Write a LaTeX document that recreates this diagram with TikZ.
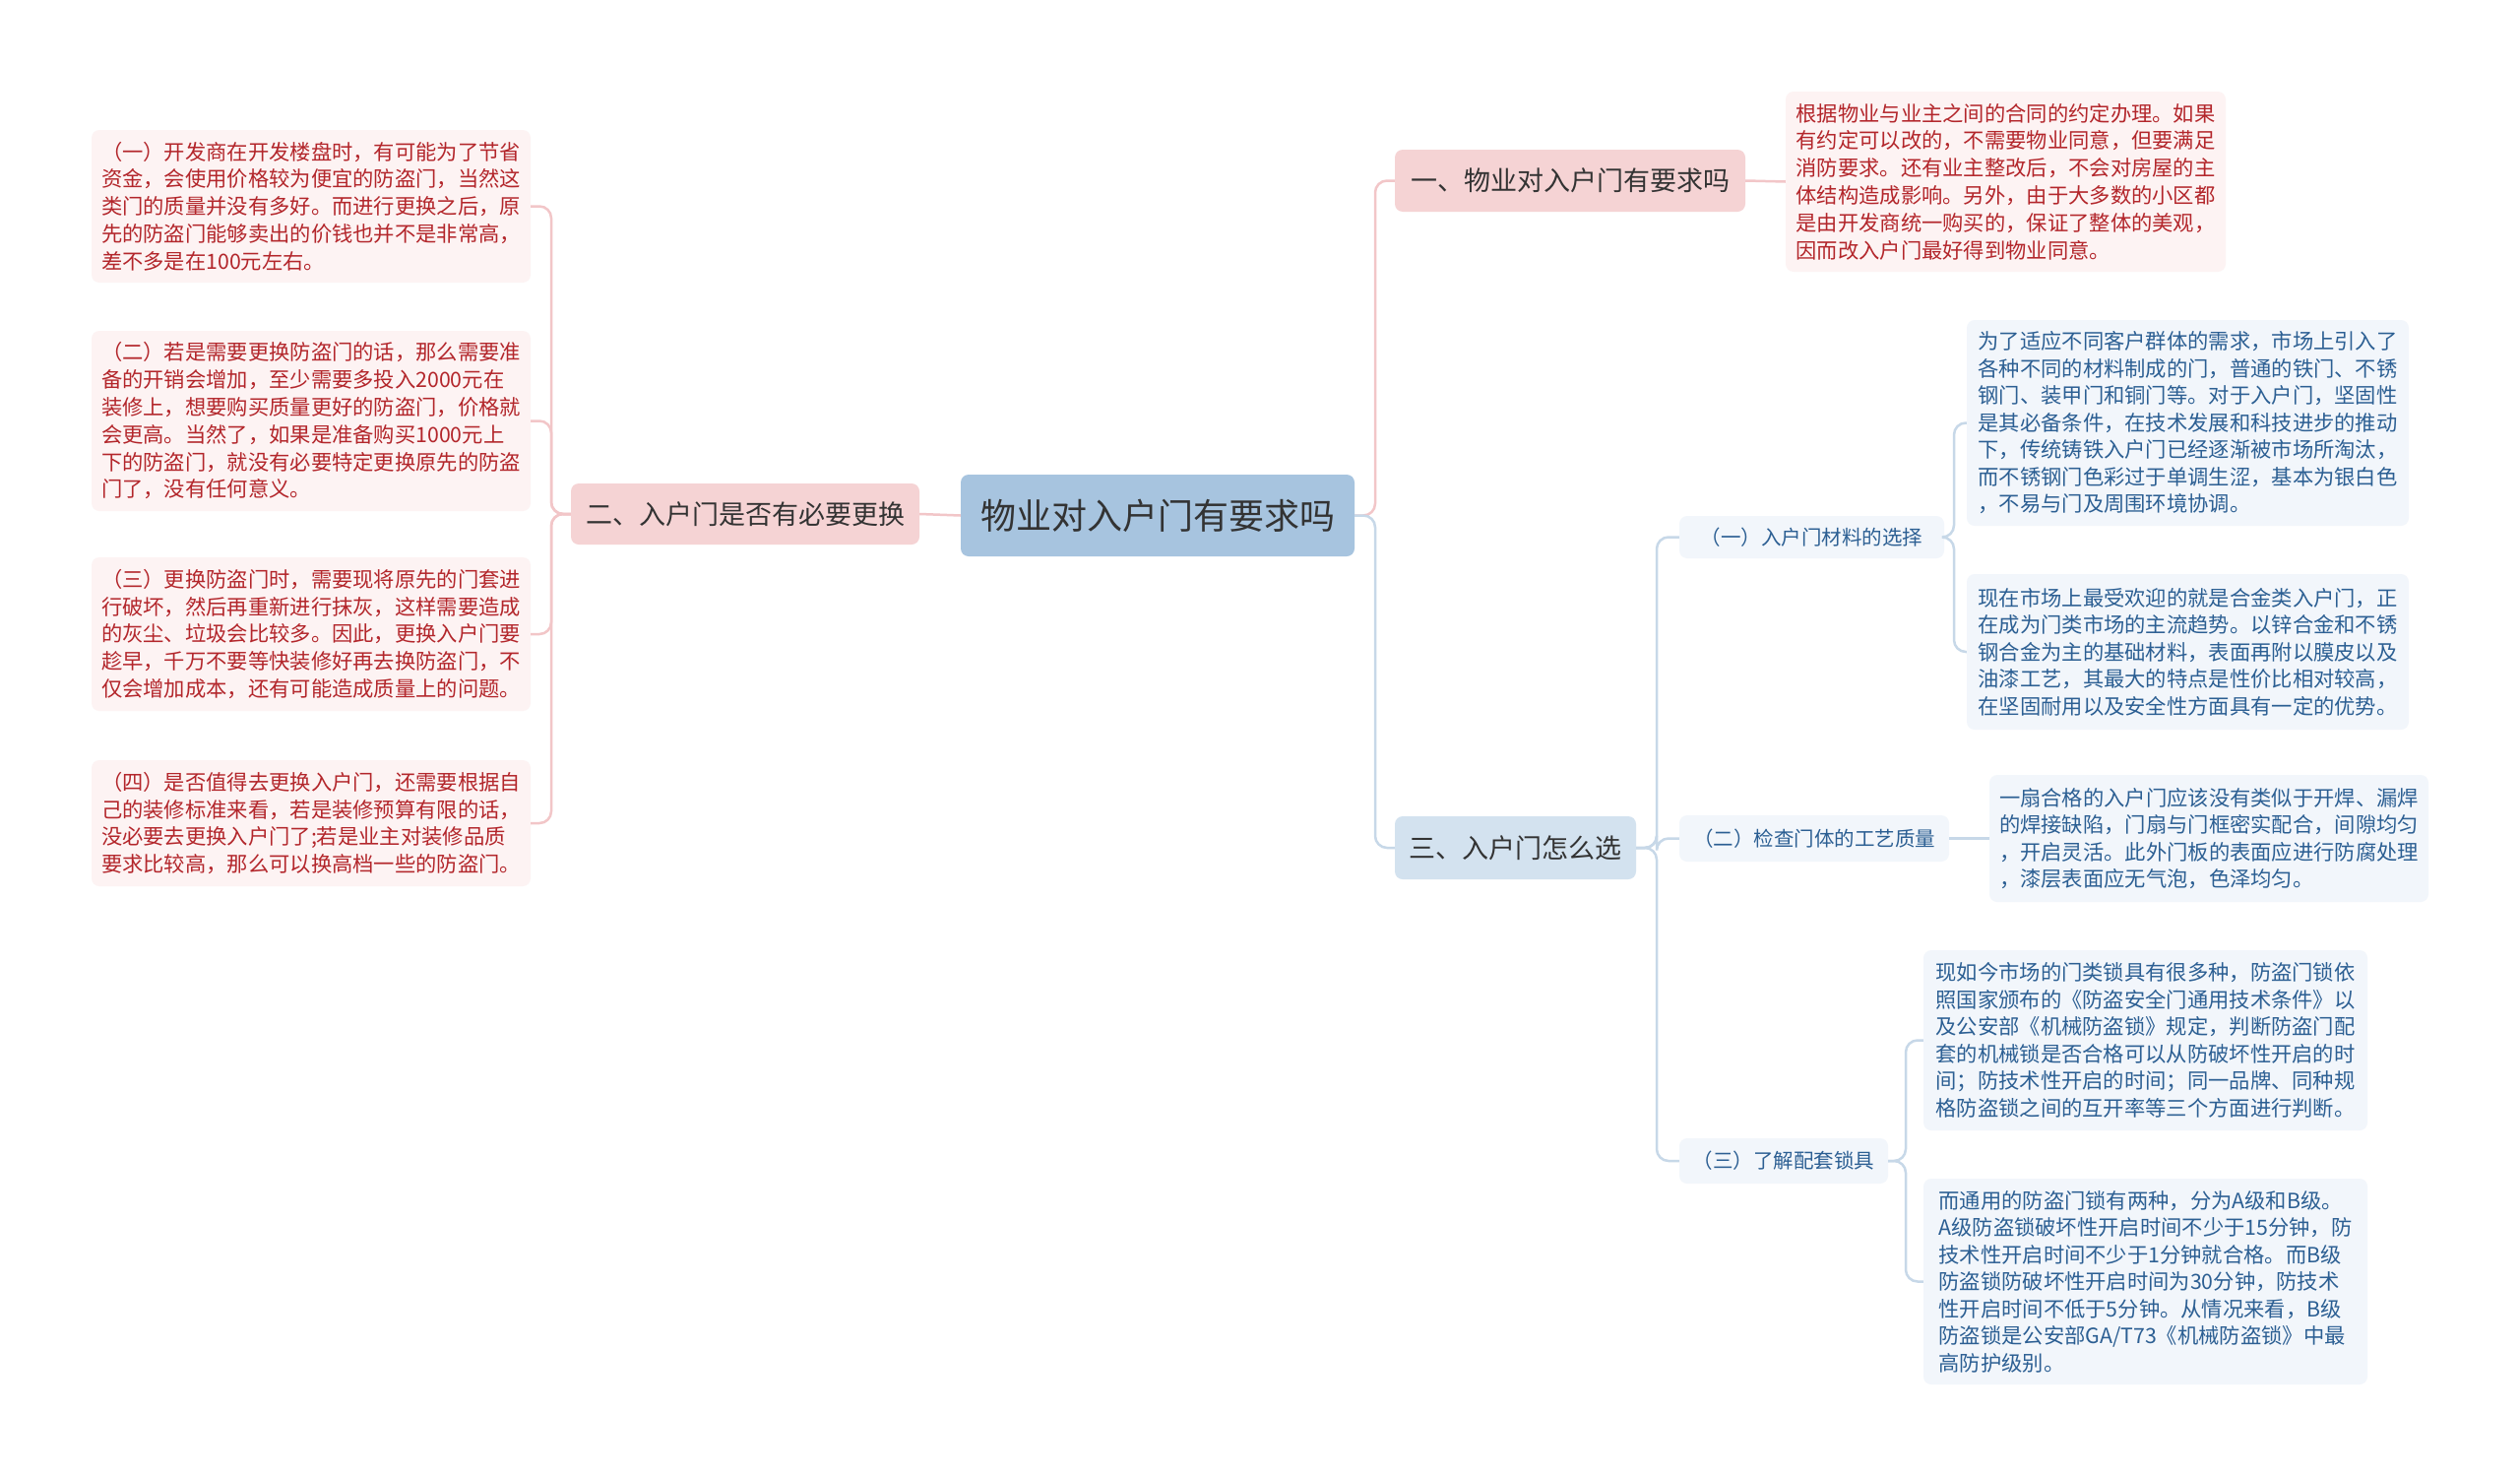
\documentclass[tikz,border=0pt]{standalone}
\usepackage{fontspec}
\setmainfont{Noto Sans CJK SC}
\definecolor{rootfill}{HTML}{A7C4DF}
\definecolor{pinkfill}{HTML}{F5D3D4}
\definecolor{pinkleaf}{HTML}{FDF3F3}
\definecolor{redtext}{HTML}{B3262B}
\definecolor{bluefill}{HTML}{D3E2EF}
\definecolor{blueleaf}{HTML}{F2F6FB}
\definecolor{bluetext}{HTML}{2C5F93}
\definecolor{pinkline}{HTML}{F2C6C8}
\definecolor{blueline}{HTML}{C7D8E8}
\definecolor{darktext}{HTML}{333333}
\tikzset{
  box/.style={rounded corners=8pt, inner sep=0pt, align=left},
  bx/.style 2 args={minimum width=#1pt, minimum height=#2pt},
  rootbox/.style={box, fill=rootfill, text=darktext, font=\fontsize{36}{42}\selectfont},
  pinkbranch/.style={box, fill=pinkfill, text=darktext, font=\fontsize{27}{32}\selectfont},
  bluebranch/.style={box, fill=bluefill, text=darktext, font=\fontsize{27}{32}\selectfont},
  subbox/.style={box, fill=blueleaf, text=bluetext, font=\fontsize{20.5}{25}\selectfont},
  redleaf/.style={box, fill=pinkleaf, text=redtext, font=\fontsize{21.3}{27.8}\selectfont},
  blueleafbox/.style={box, fill=blueleaf, text=bluetext, font=\fontsize{21.3}{27.5}\selectfont},
  pinkconn/.style={draw=pinkline, line width=2.5pt, rounded corners=12pt},
  blueconn/.style={draw=blueline, line width=2.5pt, rounded corners=12pt},
}
\begin{document}
\begin{tikzpicture}[x=1pt,y=-1pt]
\useasboundingbox[fill=white] (0,0) rectangle (2560,1499);

% root and branches
\node[rootbox, bx={400}{83}] (root) at (1176,523.5) {物业对入户门有要求吗};
\node[pinkbranch, bx={354}{62}] (bl) at (757,522) {二、入户门是否有必要更换};
\node[pinkbranch, bx={356}{63}] (b1) at (1595,183.5) {一、物业对入户门有要求吗};
\node[bluebranch, bx={245}{64}] (b3) at (1539.5,861) {三、入户门怎么选};

% left leaves
\node[redleaf, bx={446}{155}] (l1) at (316,209.5) {（一）开发商在开发楼盘时，有可能为了节省\\资金，会使用价格较为便宜的防盗门，当然这\\类门的质量并没有多好。而进行更换之后，原\\先的防盗门能够卖出的价钱也并不是非常高，\\差不多是在100元左右。};
\node[redleaf, bx={446}{183}] (l2) at (316,427.5) {（二）若是需要更换防盗门的话，那么需要准\\备的开销会增加，至少需要多投入2000元在\\装修上，想要购买质量更好的防盗门，价格就\\会更高。当然了，如果是准备购买1000元上\\下的防盗门，就没有必要特定更换原先的防盗\\门了，没有任何意义。};
\node[redleaf, bx={446}{156}] (l3) at (316,644) {（三）更换防盗门时，需要现将原先的门套进\\行破坏，然后再重新进行抹灰，这样需要造成\\的灰尘、垃圾会比较多。因此，更换入户门要\\趁早，千万不要等快装修好再去换防盗门，不\\仅会增加成本，还有可能造成质量上的问题。};
\node[redleaf, bx={446}{128}] (l4) at (316,836) {（四）是否值得去更换入户门，还需要根据自\\己的装修标准来看，若是装修预算有限的话，\\没必要去更换入户门了;若是业主对装修品质\\要求比较高，那么可以换高档一些的防盗门。};

% branch 1 leaf
\node[redleaf, bx={447}{183}] (b1a) at (2037.5,184.5) {根据物业与业主之间的合同的约定办理。如果\\有约定可以改的，不需要物业同意，但要满足\\消防要求。还有业主整改后，不会对房屋的主\\体结构造成影响。另外，由于大多数的小区都\\是由开发商统一购买的，保证了整体的美观，\\因而改入户门最好得到物业同意。};

% branch 3 subs
\node[subbox, bx={269}{43}] (s1) at (1840.5,545.5) {（一）入户门材料的选择};
\node[subbox, bx={274}{47}] (s2) at (1843,851.5) {（二）检查门体的工艺质量};
\node[subbox, bx={212}{46}] (s3) at (1812,1179) {（三）了解配套锁具};

\node[blueleafbox, bx={449}{209}] (s1a) at (2222.5,429.5) {为了适应不同客户群体的需求，市场上引入了\\各种不同的材料制成的门，普通的铁门、不锈\\钢门、装甲门和铜门等。对于入户门，坚固性\\是其必备条件，在技术发展和科技进步的推动\\下，传统铸铁入户门已经逐渐被市场所淘汰，\\而不锈钢门色彩过于单调生涩，基本为银白色\\，不易与门及周围环境协调。};
\node[blueleafbox, bx={449}{158}] (s1b) at (2222.5,662) {现在市场上最受欢迎的就是合金类入户门，正\\在成为门类市场的主流趋势。以锌合金和不锈\\钢合金为主的基础材料，表面再附以膜皮以及\\油漆工艺，其最大的特点是性价比相对较高，\\在坚固耐用以及安全性方面具有一定的优势。};
\node[blueleafbox, bx={446}{129}] (s2a) at (2244,851.5) {一扇合格的入户门应该没有类似于开焊、漏焊\\的焊接缺陷，门扇与门框密实配合，间隙均匀\\，开启灵活。此外门板的表面应进行防腐处理\\，漆层表面应无气泡，色泽均匀。};
\node[blueleafbox, bx={451}{183}] (s3a) at (2179.5,1056.5) {现如今市场的门类锁具有很多种，防盗门锁依\\照国家颁布的《防盗安全门通用技术条件》以\\及公安部《机械防盗锁》规定，判断防盗门配\\套的机械锁是否合格可以从防破坏性开启的时\\间；防技术性开启的时间；同一品牌、同种规\\格防盗锁之间的互开率等三个方面进行判断。};
\node[blueleafbox, bx={451}{209}] (s3b) at (2179.5,1301.5) {而通用的防盗门锁有两种，分为A级和B级。\\A级防盗锁破坏性开启时间不少于15分钟，防\\技术性开启时间不少于1分钟就合格。而B级\\防盗锁防破坏性开启时间为30分钟，防技术\\性开启时间不低于5分钟。从情况来看，B级\\防盗锁是公安部GA/T73《机械防盗锁》中最\\高防护级别。};

% junctions
\coordinate (jl) at (560,522);
\coordinate (jr) at (1397,523.5);
\coordinate (j3) at (1683,861);
\coordinate (j4) at (1985,545.5);
\coordinate (j5) at (1936,1179);

% connectors
\draw[pinkconn] (root.west) -- (bl.east);
\foreach \n in {l1,l2,l3,l4} \draw[pinkconn] (bl.west) -- (jl) |- (\n.east);
\draw[pinkconn] (root.east) -- (jr) |- (b1.west);
\draw[blueconn] (root.east) -- (jr) |- (b3.west);
\draw[pinkconn] (b1.east) -- (b1a.west);
\foreach \n in {s1,s2,s3} \draw[blueconn] (b3.east) -- (j3) |- (\n.west);
\foreach \n in {s1a,s1b} \draw[blueconn] (s1.east) -- (j4) |- (\n.west);
\draw[blueconn] (s2.east) -- (s2a.west);
\foreach \n in {s3a,s3b} \draw[blueconn] (s3.east) -- (j5) |- (\n.west);
\end{tikzpicture}
\end{document}
